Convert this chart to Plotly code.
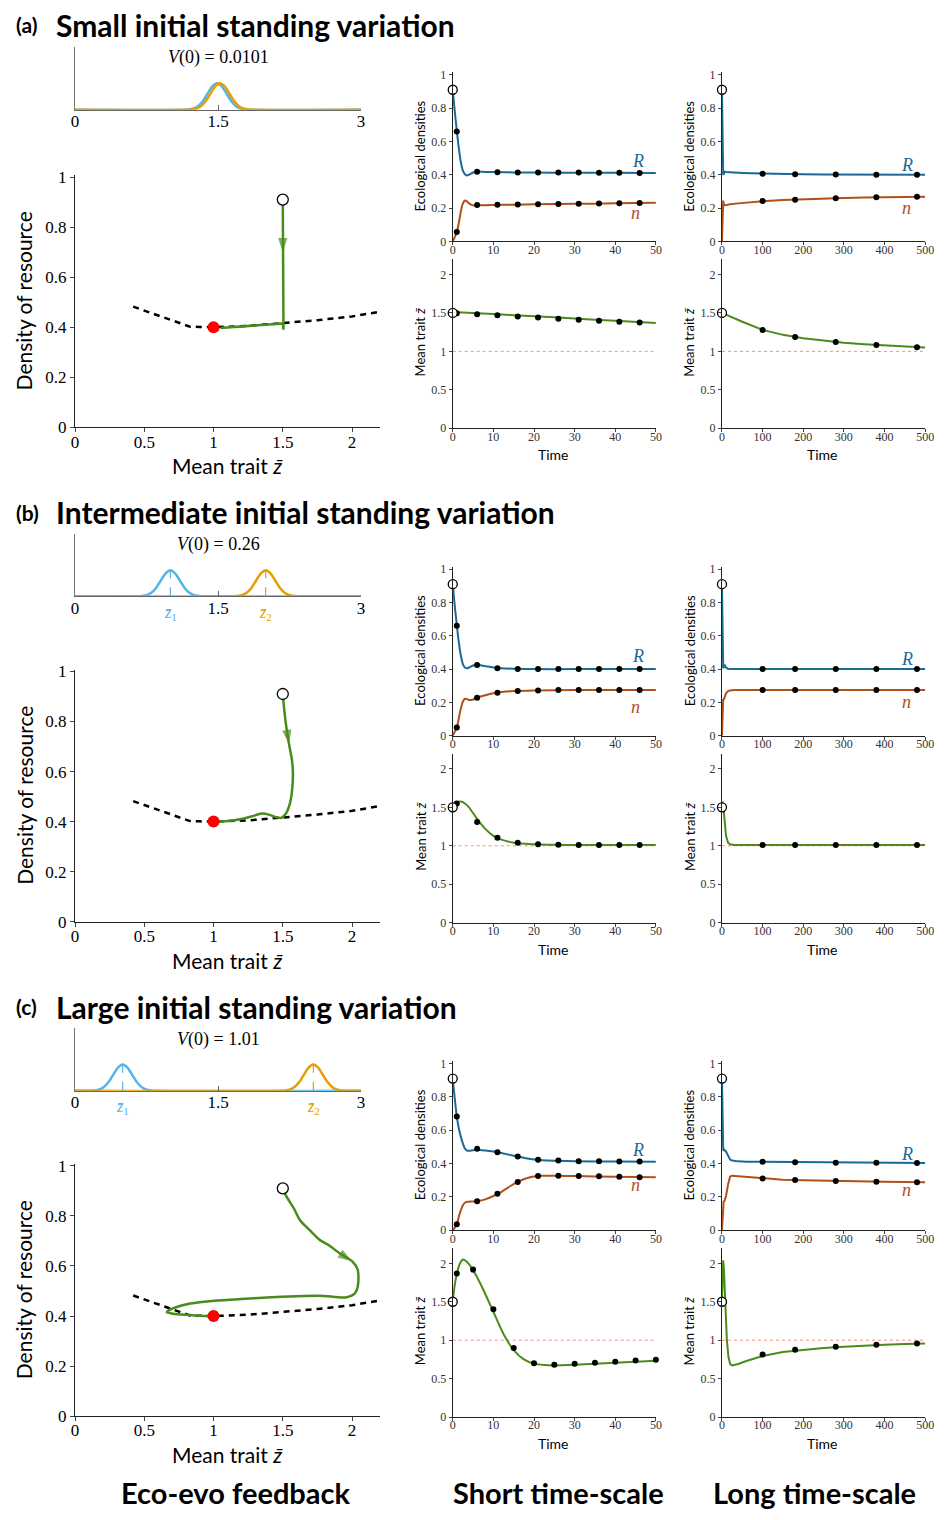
import plotly.graph_objects as go

W, H = 944, 1520

# ======================= DATA =======================
ROW_TAGS = ["(a)", "(b)", "(c)"]
ROW_TITLES = ["Small initial standing variation",
              "Intermediate initial standing variation",
              "Large initial standing variation"]
V0_VALUES = ["0.0101", "0.26", "1.01"]
COL_TITLES = ["Eco-evo feedback", "Short time-scale", "Long time-scale"]

# initial trait distributions (two sub-populations)
DIST_TICKS = [0, 1.5, 3]
DIST_Y = [0, 0, 0.005, 0.018, 0.057, 0.135, 0.255, 0.37, 0.42, 0.37, 0.255, 0.135, 0.057, 0.018, 0.005, 0, 0]
A_BLUE_X = [0, 1.14, 1.19, 1.24, 1.29, 1.34, 1.39, 1.44, 1.49, 1.54, 1.59, 1.64, 1.69, 1.74, 1.79, 1.84, 3]
A_ORANGE_X = [0, 1.17, 1.22, 1.27, 1.32, 1.37, 1.42, 1.47, 1.52, 1.57, 1.62, 1.67, 1.72, 1.77, 1.82, 1.87, 3]
B_BLUE_X = [0, 0.65, 0.70, 0.75, 0.80, 0.85, 0.90, 0.95, 1.00, 1.05, 1.10, 1.15, 1.20, 1.25, 1.30, 1.35, 3]
B_ORANGE_X = [0, 1.65, 1.70, 1.75, 1.80, 1.85, 1.90, 1.95, 2.00, 2.05, 2.10, 2.15, 2.20, 2.25, 2.30, 2.35, 3]
C_BLUE_X = [0, 0.15, 0.20, 0.25, 0.30, 0.35, 0.40, 0.45, 0.50, 0.55, 0.60, 0.65, 0.70, 0.75, 0.80, 0.85, 3]
C_ORANGE_X = [0, 2.15, 2.20, 2.25, 2.30, 2.35, 2.40, 2.45, 2.50, 2.55, 2.60, 2.65, 2.70, 2.75, 2.80, 2.85, 3]
Z1_MEANS = [None, 1.0, 0.5]
Z2_MEANS = [None, 2.0, 2.5]
MEAN_LINE_TOP = 0.49

# phase plane: isocline, equilibrium, start
ISO_Z = [0.42, 0.83, 0.90, 1.00, 1.25, 1.50, 1.75, 2.00, 2.20]
ISO_R = [0.482, 0.402, 0.401, 0.400, 0.405, 0.415, 0.428, 0.443, 0.462]
EQ_Z, EQ_R = 1.0, 0.40
START_Z, START_R = 1.5, 0.91
EQ_TRAIT = 1.0

A_TRAJ_Z = [1.5, 1.5, 1.5, 1.501, 1.503, 1.505, 1.504, 1.50, 1.45, 1.40, 1.30, 1.20, 1.10, 1.05]
A_TRAJ_R = [0.905, 0.80, 0.70, 0.55, 0.45, 0.39, 0.405, 0.415, 0.413, 0.411, 0.407, 0.403, 0.399, 0.397]
A_ARROW = 2
B_TRAJ_Z = [1.5, 1.51, 1.525, 1.545, 1.565, 1.573, 1.568, 1.55, 1.52, 1.49, 1.45, 1.40, 1.35, 1.30, 1.20, 1.10, 1.00]
B_TRAJ_R = [0.905, 0.85, 0.78, 0.71, 0.65, 0.60, 0.53, 0.47, 0.43, 0.415, 0.418, 0.428, 0.432, 0.425, 0.41, 0.402, 0.40]
B_ARROW = 3
C_TRAJ_Z = [1.5, 1.528, 1.58, 1.623, 1.70, 1.765, 1.84, 1.907, 2.00, 2.04, 2.045, 2.035, 2.014, 1.955, 1.85,
            1.765, 1.60, 1.386, 1.20, 1.006, 0.90, 0.816, 0.74, 0.674, 0.662, 0.69, 0.721, 0.80, 0.863, 0.93, 0.982]
C_TRAJ_R = [0.905, 0.876, 0.83, 0.784, 0.74, 0.705, 0.68, 0.652, 0.619, 0.586, 0.534, 0.505, 0.487, 0.474, 0.478,
            0.481, 0.479, 0.474, 0.468, 0.461, 0.455, 0.448, 0.437, 0.422, 0.415, 0.411, 0.408, 0.405, 0.402, 0.40, 0.40]
C_ARROW = 8

# time series: dots times
T_SHORT_DOTS = [1, 6, 11, 16, 21, 26, 31, 36, 41, 46]
C_TZ_SHORT_DOTS = [1, 5, 10, 15, 20, 25, 30, 35, 40, 45, 50]
T_LONG_DOTS = [100, 180, 280, 380, 480]

# ---- row (a)
A_TS = [0, 0.5, 1, 1.5, 2, 2.5, 3, 3.5, 4, 5, 6, 8, 10, 15, 20, 30, 40, 50]
A_RS = [0.91, 0.78, 0.665, 0.56, 0.475, 0.425, 0.403, 0.396, 0.40, 0.413, 0.418, 0.417, 0.416, 0.414, 0.413, 0.412, 0.412, 0.411]
A_NS = [0.0, 0.025, 0.056, 0.11, 0.18, 0.228, 0.245, 0.24, 0.228, 0.216, 0.216, 0.217, 0.218, 0.22, 0.222, 0.225, 0.228, 0.232]
A_RS_DOTS = [0.66, 0.418, 0.415, 0.414, 0.414, 0.413, 0.413, 0.412, 0.412, 0.411]
A_NS_DOTS = [0.056, 0.218, 0.219, 0.221, 0.222, 0.224, 0.225, 0.227, 0.229, 0.230]
A_ZS_T = [0, 10, 20, 30, 40, 50]
A_ZS = [1.512, 1.486, 1.457, 1.428, 1.398, 1.37]
A_ZS_DOTS = [1.495, 1.484, 1.471, 1.455, 1.441, 1.425, 1.411, 1.398, 1.386, 1.377]
A_TL = [0, 1, 2, 3, 4, 6, 10, 20, 40, 70, 100, 150, 200, 250, 300, 350, 400, 450, 500]
A_RL = [0.91, 0.665, 0.475, 0.403, 0.40, 0.418, 0.416, 0.414, 0.412, 0.409, 0.407, 0.405, 0.403, 0.402, 0.401, 0.401, 0.40, 0.40, 0.40]
A_NL = [0.0, 0.056, 0.18, 0.245, 0.228, 0.216, 0.218, 0.222, 0.228, 0.236, 0.241, 0.248, 0.253, 0.257, 0.26, 0.263, 0.265, 0.267, 0.268]
A_RL_DOTS = [0.406, 0.403, 0.401, 0.400, 0.400]
A_NL_DOTS = [0.242, 0.250, 0.258, 0.264, 0.267]
A_ZL_T = [0, 25, 50, 100, 150, 200, 250, 300, 350, 400, 450, 500]
A_ZL = [1.5, 1.44, 1.385, 1.28, 1.215, 1.17, 1.138, 1.113, 1.094, 1.078, 1.062, 1.05]
A_ZL_DOTS = [1.277, 1.187, 1.123, 1.084, 1.054]

# ---- row (b)
B_TS = [0, 0.5, 1, 1.5, 2, 2.5, 3, 3.5, 4, 5, 6, 8, 10, 12, 15, 20, 30, 40, 50]
B_RS = [0.91, 0.78, 0.665, 0.56, 0.48, 0.43, 0.41, 0.405, 0.41, 0.422, 0.426, 0.418, 0.41, 0.405, 0.402, 0.40, 0.40, 0.40, 0.40]
B_NS = [0.0, 0.025, 0.05, 0.105, 0.165, 0.205, 0.222, 0.22, 0.215, 0.218, 0.228, 0.243, 0.255, 0.262, 0.268, 0.272, 0.274, 0.274, 0.274]
B_RS_DOTS = [0.66, 0.425, 0.405, 0.40, 0.40, 0.40, 0.40, 0.40, 0.40, 0.40]
B_NS_DOTS = [0.05, 0.228, 0.258, 0.268, 0.272, 0.274, 0.274, 0.274, 0.274, 0.274]
B_ZS_T = [0, 1, 2, 3, 4, 6, 8, 10, 12, 15, 20, 25, 30, 40, 50]
B_ZS = [1.5, 1.56, 1.575, 1.55, 1.5, 1.35, 1.22, 1.13, 1.08, 1.04, 1.02, 1.012, 1.01, 1.01, 1.01]
B_ZS_DOTS = [1.55, 1.31, 1.105, 1.04, 1.02, 1.012, 1.01, 1.01, 1.01, 1.01]
B_TL = [0, 1, 2, 3, 4, 6, 10, 15, 20, 30, 50, 100, 200, 300, 400, 500]
B_RL = [0.91, 0.665, 0.48, 0.41, 0.41, 0.426, 0.41, 0.402, 0.40, 0.40, 0.40, 0.40, 0.40, 0.40, 0.40, 0.40]
B_NL = [0.0, 0.05, 0.165, 0.222, 0.215, 0.228, 0.255, 0.268, 0.272, 0.274, 0.274, 0.275, 0.275, 0.275, 0.275, 0.275]
B_RL_DOTS = [0.40, 0.40, 0.40, 0.40, 0.40]
B_NL_DOTS = [0.275, 0.275, 0.275, 0.275, 0.275]
B_ZL_T = [0, 2, 5, 10, 15, 20, 30, 50, 100, 200, 300, 400, 500]
B_ZL = [1.5, 1.575, 1.42, 1.13, 1.04, 1.02, 1.01, 1.01, 1.01, 1.01, 1.01, 1.01, 1.01]
B_ZL_DOTS = [1.01, 1.01, 1.01, 1.01, 1.01]

# ---- row (c)
C_TS = [0, 0.5, 1, 1.5, 2, 2.5, 3, 3.5, 4, 5, 6, 8, 10, 12, 14, 16, 18, 20, 22, 25, 30, 40, 50]
C_RS = [0.91, 0.79, 0.683, 0.61, 0.56, 0.52, 0.49, 0.478, 0.476, 0.48, 0.482, 0.478, 0.472, 0.463, 0.452, 0.442,
        0.432, 0.424, 0.42, 0.417, 0.414, 0.412, 0.411]
C_NS = [0.0, 0.015, 0.036, 0.08, 0.12, 0.15, 0.165, 0.17, 0.171, 0.172, 0.174, 0.185, 0.205, 0.23, 0.262, 0.29,
        0.31, 0.322, 0.326, 0.327, 0.325, 0.321, 0.318]
C_RS_DOTS = [0.683, 0.488, 0.468, 0.442, 0.422, 0.418, 0.414, 0.413, 0.412, 0.412]
C_NS_DOTS = [0.036, 0.173, 0.219, 0.289, 0.325, 0.327, 0.325, 0.323, 0.320, 0.318]
C_ZS_T = [0, 0.5, 1, 1.5, 2, 2.5, 3, 4, 5, 6, 7.5, 10, 12.5, 15, 17.5, 20, 22.5, 25, 30, 35, 40, 45, 50]
C_ZS = [1.5, 1.72, 1.86, 1.96, 2.02, 2.05, 2.04, 1.99, 1.91, 1.82, 1.66, 1.37, 1.08, 0.87, 0.75, 0.695, 0.677,
        0.672, 0.68, 0.693, 0.706, 0.72, 0.733]
C_ZS_DOTS = [1.868, 1.919, 1.402, 0.897, 0.701, 0.679, 0.692, 0.705, 0.718, 0.735, 0.744]
C_TL = [0, 1, 2, 3, 4, 6, 10, 15, 20, 25, 30, 40, 60, 100, 150, 200, 300, 400, 500]
C_RL = [0.91, 0.683, 0.56, 0.49, 0.476, 0.482, 0.472, 0.447, 0.424, 0.418, 0.415, 0.413, 0.411, 0.41, 0.408,
        0.407, 0.405, 0.404, 0.403]
C_NL = [0.0, 0.036, 0.12, 0.165, 0.171, 0.174, 0.205, 0.275, 0.322, 0.327, 0.326, 0.323, 0.318, 0.31, 0.303,
        0.299, 0.293, 0.29, 0.288]
C_RL_DOTS = [0.410, 0.407, 0.405, 0.404, 0.403]
C_NL_DOTS = [0.310, 0.301, 0.295, 0.291, 0.288]
C_ZL_T = [0, 1, 2, 3, 5, 8, 12, 16, 20, 25, 30, 40, 60, 100, 150, 200, 250, 300, 350, 400, 450, 500]
C_ZL = [1.5, 1.86, 2.02, 2.04, 1.91, 1.55, 1.0, 0.78, 0.69, 0.672, 0.675, 0.69, 0.73, 0.795, 0.845, 0.875,
        0.898, 0.915, 0.93, 0.94, 0.95, 0.957]
C_ZL_DOTS = [0.813, 0.877, 0.915, 0.941, 0.958]

ROWS = [
    dict(blue_x=A_BLUE_X, orange_x=A_ORANGE_X, traj_z=A_TRAJ_Z, traj_r=A_TRAJ_R, arrow=A_ARROW, traj_shape="linear",
         ts=A_TS, rs=A_RS, ns=A_NS, rs_d=A_RS_DOTS, ns_d=A_NS_DOTS, zs_t=A_ZS_T, zs=A_ZS, zs_dt=T_SHORT_DOTS, zs_d=A_ZS_DOTS,
         tl=A_TL, rl=A_RL, nl=A_NL, rl_d=A_RL_DOTS, nl_d=A_NL_DOTS, zl_t=A_ZL_T, zl=A_ZL, zl_d=A_ZL_DOTS),
    dict(blue_x=B_BLUE_X, orange_x=B_ORANGE_X, traj_z=B_TRAJ_Z, traj_r=B_TRAJ_R, arrow=B_ARROW, traj_shape="spline",
         ts=B_TS, rs=B_RS, ns=B_NS, rs_d=B_RS_DOTS, ns_d=B_NS_DOTS, zs_t=B_ZS_T, zs=B_ZS, zs_dt=T_SHORT_DOTS, zs_d=B_ZS_DOTS,
         tl=B_TL, rl=B_RL, nl=B_NL, rl_d=B_RL_DOTS, nl_d=B_NL_DOTS, zl_t=B_ZL_T, zl=B_ZL, zl_d=B_ZL_DOTS),
    dict(blue_x=C_BLUE_X, orange_x=C_ORANGE_X, traj_z=C_TRAJ_Z, traj_r=C_TRAJ_R, arrow=C_ARROW, traj_shape="spline",
         ts=C_TS, rs=C_RS, ns=C_NS, rs_d=C_RS_DOTS, ns_d=C_NS_DOTS, zs_t=C_ZS_T, zs=C_ZS, zs_dt=C_TZ_SHORT_DOTS, zs_d=C_ZS_DOTS,
         tl=C_TL, rl=C_RL, nl=C_NL, rl_d=C_RL_DOTS, nl_d=C_NL_DOTS, zl_t=C_ZL_T, zl=C_ZL, zl_d=C_ZL_DOTS),
]

# ======================= STYLE =======================
GREEN = "#4a8c1c"
R_BLUE = "#1a6a95"
N_BROWN = "#b0501a"
DIST_BLUE = "#56b4e9"
DIST_ORANGE = "#e69f00"
SERIF = "Liberation Serif, DejaVu Serif, serif"
SANS = "Lato, Open Sans, DejaVu Sans, sans-serif"

fig = go.Figure()
layout_axes = {}
annotations = []
counter = [0]


def px(x):
    return x / W


def py(y):
    return 1 - y / H


def new_axes(xdom, ydom, xopts, yopts):
    counter[0] += 1
    i = counter[0]
    xr = "x" if i == 1 else f"x{i}"
    yr = "y" if i == 1 else f"y{i}"
    layout_axes["xaxis" if i == 1 else f"xaxis{i}"] = dict(domain=[px(xdom[0]), px(xdom[1])], anchor=yr, **xopts)
    layout_axes["yaxis" if i == 1 else f"yaxis{i}"] = dict(domain=[py(ydom[1]), py(ydom[0])], anchor=xr, **yopts)
    return xr, yr


def axis_common(**kw):
    d = dict(showgrid=False, zeroline=False, showline=True, linecolor="#222", linewidth=1,
             ticks="outside", ticklen=3, tickcolor="#444", tickfont=dict(family=SERIF, size=12, color="#333"),
             fixedrange=True)
    d.update(kw)
    return d


def add_text(x, y, text, size, family=SANS, color="black", angle=0, xanchor="center", yanchor="middle",
             xref="paper", yref="paper"):
    annotations.append(dict(x=x, y=y, xref=xref, yref=yref, text=text, showarrow=False, textangle=angle,
                            font=dict(family=family, size=size, color=color), xanchor=xanchor, yanchor=yanchor))


def dots(xr, yr, t, v):
    fig.add_trace(go.Scatter(x=t, y=v, mode="markers", xaxis=xr, yaxis=yr, cliponaxis=False,
                             marker=dict(color="black", size=6), showlegend=False, hoverinfo="skip"))


def open_circle(xr, yr, x, y, size=9):
    fig.add_trace(go.Scatter(x=[x], y=[y], mode="markers", xaxis=xr, yaxis=yr, cliponaxis=False,
                             marker=dict(color="white", size=size, line=dict(color="black", width=1.3)),
                             showlegend=False, hoverinfo="skip"))


TITLE_Y = [18, 511, 1011]
DIST_TOP = [40, 533, 1033]
DIST_BOT = [104, 596, 1096]

for r, row in enumerate(ROWS):
    o = 500 * r
    # ---- titles
    add_text(px(10), py(TITLE_Y[r]), "<b>" + ROW_TAGS[r] + "</b>", 21, xanchor="left")
    add_text(px(51), py(TITLE_Y[r]), "<b>" + ROW_TITLES[r] + "</b>", 30, xanchor="left")

    # ---- initial distribution
    xr, yr = new_axes((72, 362), (DIST_TOP[r], DIST_BOT[r]),
                      axis_common(range=[0, 3], tickvals=DIST_TICKS, ticktext=["0", "1.5", "3"], ticks="inside",
                                  ticklen=5, linecolor="#666", tickcolor="#666", ticklabelstandoff=-4,
                                  tickfont=dict(family=SERIF, size=17, color="black")),
                      axis_common(range=[0, 1], showticklabels=False, ticks="", linecolor="#777"))
    fig.add_trace(go.Scatter(x=row["blue_x"], y=DIST_Y, mode="lines", xaxis=xr, yaxis=yr, cliponaxis=False,
                             line=dict(color=DIST_BLUE, width=2.5, shape="spline", smoothing=0.8),
                             showlegend=False, hoverinfo="skip"))
    fig.add_trace(go.Scatter(x=row["orange_x"], y=DIST_Y, mode="lines", xaxis=xr, yaxis=yr, cliponaxis=False,
                             line=dict(color=DIST_ORANGE, width=2.5, shape="spline", smoothing=0.8),
                             showlegend=False, hoverinfo="skip"))
    if Z1_MEANS[r] is not None:
        for m, col, lab in ((Z1_MEANS[r], DIST_BLUE, "1"), (Z2_MEANS[r], DIST_ORANGE, "2")):
            fig.add_trace(go.Scatter(x=[m, m], y=[0, MEAN_LINE_TOP], mode="lines", xaxis=xr, yaxis=yr,
                                     line=dict(color=col, width=1.2, dash="dash"), showlegend=False,
                                     hoverinfo="skip"))
            add_text(m, py(DIST_BOT[r] + 17), "<i>z̄</i><sub>" + lab + "</sub>", 16, family=SERIF, color=col,
                     xref=xr)
    add_text(1.5, py(DIST_TOP[r] + 11), "<i>V</i>(0) = " + V0_VALUES[r], 18, family=SERIF, xref=xr)

    # ---- phase plane
    xr, yr = new_axes((72, 381), (170 + o, 425 + o),
                      axis_common(range=[0, 2.2], tickvals=[0, 0.5, 1, 1.5, 2], ticklen=4, ticklabelstandoff=-5,
                                  tickfont=dict(family=SERIF, size=17, color="black")),
                      axis_common(range=[0, 1.008], tickvals=[0, 0.2, 0.4, 0.6, 0.8, 1], ticklen=4,
                                  tickfont=dict(family=SERIF, size=17, color="black")))
    fig.add_trace(go.Scatter(x=ISO_Z, y=ISO_R, mode="lines", xaxis=xr, yaxis=yr,
                             line=dict(color="black", width=2.5, dash="6px,5px"), showlegend=False,
                             hoverinfo="skip"))
    fig.add_trace(go.Scatter(x=row["traj_z"], y=row["traj_r"], mode="lines", xaxis=xr, yaxis=yr,
                             line=dict(color=GREEN, width=2.5, shape=row["traj_shape"], smoothing=0.7),
                             showlegend=False, hoverinfo="skip"))
    k = row["arrow"]
    fig.add_trace(go.Scatter(x=row["traj_z"][k - 1:k + 1], y=row["traj_r"][k - 1:k + 1], mode="markers",
                             xaxis=xr, yaxis=yr,
                             marker=dict(symbol="arrow", angleref="previous", size=[0, 15], color=GREEN,
                                         line=dict(width=0)),
                             showlegend=False, hoverinfo="skip"))
    fig.add_trace(go.Scatter(x=[EQ_Z], y=[EQ_R], mode="markers", xaxis=xr, yaxis=yr,
                             marker=dict(color="#ff0000", size=12), showlegend=False, hoverinfo="skip"))
    open_circle(xr, yr, START_Z, START_R, size=11)
    add_text(px(20), py(297 + o), "Density of resource", 21, angle=-90)
    add_text(px(227), py(464 + o), "Mean trait <i>z̄</i>", 21)

    # ---- time series
    for (x0, x1, xmax, dtick, tkey, rk, nk, rdk, ndk, zt, zk, zdt, zdk, shape, rlab, nlab, lx) in (
        (455, 661, 50, 10, "ts", "rs", "ns", "rs_d", "ns_d", "zs_t", "zs", row["zs_dt"], "zs_d", "spline",
         (45.5, 0.48), (45, 0.17 if r != 2 else 0.27), 557),
        (728, 934, 500, 100, "tl", "rl", "nl", "rl_d", "nl_d", "zl_t", "zl", T_LONG_DOTS, "zl_d", "linear",
         (455, 0.46), (455, 0.20 if r != 2 else 0.24), 830),
    ):
        dts = T_SHORT_DOTS if xmax == 50 else T_LONG_DOTS
        # ecological densities
        xr, yr = new_axes((x0, x1), (66 + o, 237 + o),
                          axis_common(range=[0, xmax], dtick=dtick, tick0=0, ticklabelstandoff=-6),
                          axis_common(range=[0, 1.015], tickvals=[0, 0.2, 0.4, 0.6, 0.8, 1]))
        fig.add_trace(go.Scatter(x=row[tkey], y=row[rk], mode="lines", xaxis=xr, yaxis=yr,
                                 line=dict(color=R_BLUE, width=2, shape=shape, smoothing=0.8),
                                 showlegend=False, hoverinfo="skip"))
        fig.add_trace(go.Scatter(x=row[tkey], y=row[nk], mode="lines", xaxis=xr, yaxis=yr,
                                 line=dict(color=N_BROWN, width=2, shape=shape, smoothing=0.8),
                                 showlegend=False, hoverinfo="skip"))
        dots(xr, yr, dts, row[rdk])
        dots(xr, yr, dts, row[ndk])
        open_circle(xr, yr, 0, START_R)
        add_text(rlab[0], rlab[1], "<i>R</i>", 18, family=SERIF, color=R_BLUE, xref=xr, yref=yr)
        add_text(nlab[0], nlab[1], "<i>n</i>", 18, family=SERIF, color=N_BROWN, xref=xr, yref=yr)
        add_text(px(x0 - 33), py(151 + o), "Ecological densities", 13, angle=-90)

        # mean trait
        xr, yr = new_axes((x0, x1), (255 + o, 426 + o),
                          axis_common(range=[0, xmax], dtick=dtick, tick0=0, ticklabelstandoff=-6),
                          axis_common(range=[0, 2.2], tickvals=[0, 0.5, 1, 1.5, 2]))
        fig.add_trace(go.Scatter(x=[0, xmax], y=[EQ_TRAIT, EQ_TRAIT], mode="lines", xaxis=xr, yaxis=yr,
                                 line=dict(color="#ff8a8a", width=1, dash="dot"), showlegend=False,
                                 hoverinfo="skip"))
        fig.add_trace(go.Scatter(x=row[zt], y=row[zk], mode="lines", xaxis=xr, yaxis=yr,
                                 line=dict(color=GREEN, width=2, shape=shape, smoothing=0.8),
                                 showlegend=False, hoverinfo="skip"))
        dots(xr, yr, zdt, row[zdk])
        open_circle(xr, yr, 0, START_Z)
        add_text(px(x0 - 33), py(339 + o), "Mean trait <i>z̄</i>", 13, angle=-90)
        add_text(px(lx), py(453 + o), "Time", 14)

# column titles
for cx, t in zip((235, 562, 822), COL_TITLES):
    add_text(px(cx), py(1502), "<b>" + t + "</b>", 29)

# figure fills the browser window exactly (fixed at the top-left corner)
fig.update_layout(autosize=True, margin=dict(l=0, r=0, t=0, b=0), plot_bgcolor="white",
                  paper_bgcolor="white", showlegend=False, annotations=annotations, **layout_axes)
fig.write_html(
    "out.html",
    default_width="100vw",
    default_height="100vh; position:fixed; left:0px; top:0px",
    config={"displayModeBar": False, "responsive": True},
    post_script="document.body.style.margin='0px';document.body.style.overflow='hidden';",
)
